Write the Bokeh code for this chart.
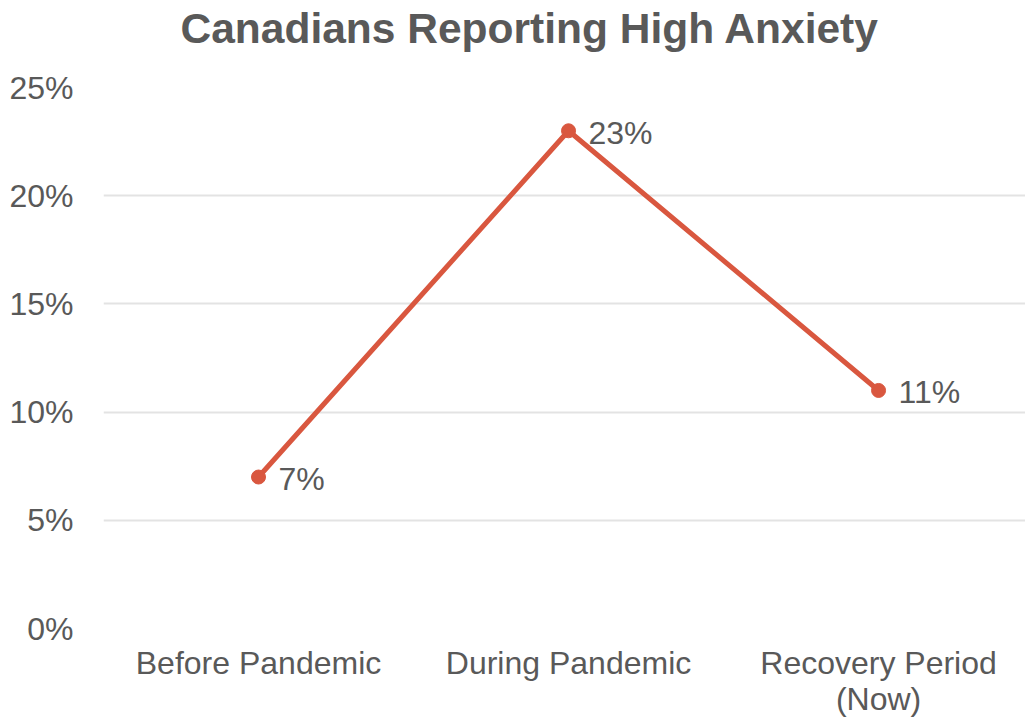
from bokeh.plotting import figure
from bokeh.models import Range1d, FixedTicker, ColumnDataSource, LabelSet, Title
from bokeh.core.properties import value
from bokeh.embed import file_html
from bokeh.resources import INLINE

title_text = "Canadians Reporting High Anxiety"
categories = ["Before Pandemic", "During Pandemic", "Recovery Period\n(Now)"]
values = [7, 23, 11]
value_labels = ["7%", "23%", "11%"]
y_ticks = [0, 5, 10, 15, 20, 25]
y_tick_labels = ["0%", "5%", "10%", "15%", "20%", "25%"]

TXT = "#595959"
LINE = "#D9573F"
FONT = "Liberation Sans"

x_idx = list(range(len(categories)))
src = ColumnDataSource(dict(x=x_idx, y=values, lab=value_labels))

p = figure(width=1025, height=719, output_backend="svg", toolbar_location=None,
           x_range=Range1d(-0.5, 2.474), y_range=Range1d(0, 25),
           min_border_left=103, min_border_right=0, min_border_top=87, min_border_bottom=90,
           title=title_text)
p.outline_line_color = None
p.title.text_font = FONT
p.title.text_font_size = "42.5px"
p.title.text_font_style = "bold"
p.title.text_color = TXT
p.title.align = "left"
p.title.offset = 77
p.title.standoff = 0

# spacer between title and plot area
p.add_layout(Title(text=" ", text_font_size="1px", standoff=33), "above")

p.xgrid.grid_line_color = None
p.ygrid.grid_line_color = "#e3e3e3"
p.ygrid.grid_line_width = 2
p.ygrid.ticker = FixedTicker(ticks=y_ticks)

p.yaxis.ticker = FixedTicker(ticks=y_ticks)
p.yaxis.major_label_overrides = {t: l for t, l in zip(y_ticks, y_tick_labels)}
p.xaxis.ticker = FixedTicker(ticks=x_idx)
p.xaxis.major_label_overrides = {i: c for i, c in zip(x_idx, categories)}
for ax in (p.xaxis[0], p.yaxis[0]):
    ax.axis_line_color = None
    ax.major_tick_line_color = None
    ax.minor_tick_line_color = None
    ax.major_label_text_font = FONT
    ax.major_label_text_font_size = "32px"
    ax.major_label_text_color = TXT
p.yaxis.major_label_standoff = 24
p.xaxis.major_label_standoff = 10
p.xaxis.major_label_text_line_height = 1.0

p.line("x", "y", source=src, line_color=LINE, line_width=5)
p.scatter("x", "y", source=src, size=14, fill_color=LINE, line_color=LINE)
labels = LabelSet(x="x", y="y", text="lab", source=src, x_offset=20, y_offset=-2,
                  text_font=value(FONT), text_font_size=value("32px"), text_color=TXT,
                  text_baseline="middle", text_align="left")
p.add_layout(labels)

open("out.html", "w").write(file_html(p, INLINE))
